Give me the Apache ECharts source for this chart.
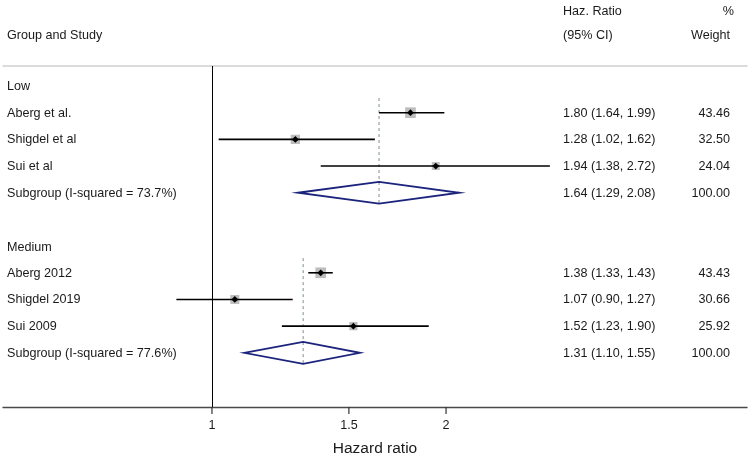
<!DOCTYPE html>
<html>
<head>
<meta charset="utf-8">
<script src="https://cdn.jsdelivr.net/npm/echarts@6/dist/echarts.min.js"></script>
<style>html,body{margin:0;padding:0;background:#fff}#c{width:750px;height:457px}</style>
</head>
<body>
<div id="c"></div>
<script>
// ---- data ----
const groupNames = ['Low', 'Medium'];
const studyNames = ['Aberg et al.', 'Shigdel et al', 'Sui et al', 'Aberg 2012', 'Shigdel 2019', 'Sui 2009'];
const studyGroup = [0, 0, 0, 1, 1, 1];
const studyHR = [1.80, 1.28, 1.94, 1.38, 1.07, 1.52];
const studyLower = [1.64, 1.02, 1.38, 1.33, 0.90, 1.23];
const studyUpper = [1.99, 1.62, 2.72, 1.43, 1.27, 1.90];
const studyWeight = [43.46, 32.50, 24.04, 43.43, 30.66, 25.92];
const subgroupLabels = ['Subgroup (I-squared = 73.7%)', 'Subgroup (I-squared = 77.6%)'];
const subgroupHR = [1.64, 1.31];
const subgroupLower = [1.29, 1.10];
const subgroupUpper = [2.08, 1.55];
const subgroupWeight = [100.00, 100.00];
const xTickValues = [1, 1.5, 2];
const xAxisTitle = 'Hazard ratio';

// ---- row layout ----
const groupRow = [];
const studyRow = [];
const subgroupRow = [];
const subgroupFirstRow = [];
let r = 0;
groupNames.forEach((g, gi) => {
  groupRow.push(r); r++;
  subgroupFirstRow.push(r);
  studyNames.forEach((s, si) => { if (studyGroup[si] === gi) { studyRow[si] = r; r++; } });
  subgroupRow.push(r); r++;
  r++; // blank
});

const Y_MIN = -0.75, Y_MAX = 12.03;
const X_MIN = 0.5386, X_MAX = 4.876;
const FONT = '12.6px "Liberation Sans", Arial, Helvetica, sans-serif';
const TXT = '#1a1a1a';
const COL_NAME = 7, COL_HR = 563, COL_W = 730;

function fmt(v) { return v.toFixed(2); }

const chart = echarts.init(document.getElementById('c'), null, {renderer: 'canvas'});

const studyData = studyNames.map((s, i) => [studyHR[i], studyRow[i], studyLower[i], studyUpper[i], studyWeight[i], i]);
const subData = groupNames.map((g, i) => [subgroupHR[i], subgroupRow[i], subgroupLower[i], subgroupUpper[i], subgroupFirstRow[i], i]);
const groupData = groupNames.map((g, i) => [1, groupRow[i], i]);
const tickData = xTickValues.map(v => [v, Y_MAX]);

function txt(x, y, text, align) {
  return {type: 'text', silent: true, style: {x: x, y: y, text: text, font: FONT, fill: TXT, textAlign: align || 'left', textVerticalAlign: 'middle'}};
}

chart.setOption({
  animation: false,
  grid: {left: 3, right: 3, top: 66, bottom: 50, containLabel: false, outerBoundsMode: 'none'},
  xAxis: [{
    type: 'log', min: X_MIN, max: X_MAX, position: 'bottom',
    axisLine: {show: true, onZero: false, lineStyle: {color: '#4a4a4a', width: 1.3}},
    axisTick: {show: false}, axisLabel: {show: false}, splitLine: {show: false},
    name: xAxisTitle, nameLocation: 'middle', nameGap: 34,
    nameTextStyle: {fontSize: 15.5, color: '#1a1a1a', fontFamily: '"Liberation Sans", Arial, sans-serif'}
  }, {
    type: 'log', min: X_MIN, max: X_MAX, position: 'top',
    axisLine: {show: true, onZero: false, lineStyle: {color: '#cfcfcf', width: 1.5}},
    axisTick: {show: false}, axisLabel: {show: false}, splitLine: {show: false}
  }],
  yAxis: {type: 'value', inverse: true, min: Y_MIN, max: Y_MAX, show: false},
  graphic: [
    {type: 'text', left: 7, top: 29, style: {text: 'Group and Study', font: FONT, fill: TXT}},
    {type: 'text', left: 563, top: 5, style: {text: 'Haz. Ratio', font: FONT, fill: TXT}},
    {type: 'text', left: 563, top: 29, style: {text: '(95% CI)', font: FONT, fill: TXT}},
    {type: 'text', right: 16, top: 5, style: {text: '%', font: FONT, fill: TXT}},
    {type: 'text', right: 20, top: 29, style: {text: 'Weight', font: FONT, fill: TXT}}
  ],
  series: [
    {
      // null line at HR = 1
      type: 'line', data: [], xAxisIndex: 0,
      markLine: {
        silent: true, symbol: 'none', label: {show: false},
        lineStyle: {color: '#000', width: 1, type: 'solid'},
        data: [{xAxis: 1}]
      }
    },
    {
      type: 'custom', xAxisIndex: 0,
      data: groupData,
      renderItem: function (params, api) {
        const p = api.coord([api.value(0), api.value(1)]);
        return txt(COL_NAME, p[1] + 1, groupNames[api.value(2)]);
      }
    },
    {
      type: 'custom', xAxisIndex: 0,
      data: subData,
      renderItem: function (params, api) {
        const row = api.value(1);
        const c = api.coord([api.value(0), row]);
        const l = api.coord([api.value(2), row]);
        const u = api.coord([api.value(3), row]);
        const top = api.coord([api.value(0), row - 0.41]);
        const bot = api.coord([api.value(0), row + 0.41]);
        const dTop = api.coord([api.value(0), api.value(4) - 0.55]);
        const dBot = api.coord([api.value(0), row + 0.42]);
        const i = api.value(5);
        return {type: 'group', children: [
          {type: 'line', shape: {x1: dTop[0], y1: dTop[1], x2: dBot[0], y2: dBot[1]},
           style: {stroke: '#7e8f8f', lineWidth: 1, lineDash: [3, 3]}},
          {type: 'polygon', shape: {points: [l, [c[0], top[1]], u, [c[0], bot[1]]]},
           style: {fill: 'none', stroke: '#1b237c', lineWidth: 1.8}},
          txt(COL_NAME, c[1] + 0.5, subgroupLabels[i]),
          txt(COL_HR, c[1] + 0.5, fmt(subgroupHR[i]) + ' (' + fmt(subgroupLower[i]) + ', ' + fmt(subgroupUpper[i]) + ')'),
          txt(COL_W, c[1] + 0.5, fmt(subgroupWeight[i]), 'right')
        ]};
      }
    },
    {
      type: 'custom', xAxisIndex: 0,
      data: studyData,
      renderItem: function (params, api) {
        const row = api.value(1);
        const c = api.coord([api.value(0), row]);
        const l = api.coord([api.value(2), row]);
        const u = api.coord([api.value(3), row]);
        const s = 1.62 * Math.sqrt(api.value(4));
        const i = api.value(5);
        const d = 3.4;
        return {type: 'group', children: [
          {type: 'rect', shape: {x: c[0] - s / 2, y: c[1] - s / 2, width: s, height: s},
           style: {fill: '#bdbdbd'}},
          {type: 'line', shape: {x1: l[0], y1: c[1], x2: u[0], y2: c[1]},
           style: {stroke: '#000', lineWidth: 1.6}},
          {type: 'polygon', shape: {points: [[c[0] - d, c[1]], [c[0], c[1] - d], [c[0] + d, c[1]], [c[0], c[1] + d]]},
           style: {fill: '#000'}},
          txt(COL_NAME, c[1] + 0.5, studyNames[i]),
          txt(COL_HR, c[1] + 0.5, fmt(studyHR[i]) + ' (' + fmt(studyLower[i]) + ', ' + fmt(studyUpper[i]) + ')'),
          txt(COL_W, c[1] + 0.5, fmt(studyWeight[i]), 'right')
        ]};
      }
    },
    {
      // x-axis ticks and labels at 1, 1.5, 2 (log scale)
      type: 'custom', xAxisIndex: 0, clip: false,
      data: tickData,
      renderItem: function (params, api) {
        const v = api.value(0);
        const p = api.coord([v, api.value(1)]);
        return {type: 'group', children: [
          {type: 'line', shape: {x1: p[0], y1: p[1], x2: p[0], y2: p[1] + 7},
           style: {stroke: '#333', lineWidth: 1.2}},
          txt(p[0], p[1] + 19, String(v), 'center')
        ]};
      }
    }
  ]
});
</script>
</body>
</html>
